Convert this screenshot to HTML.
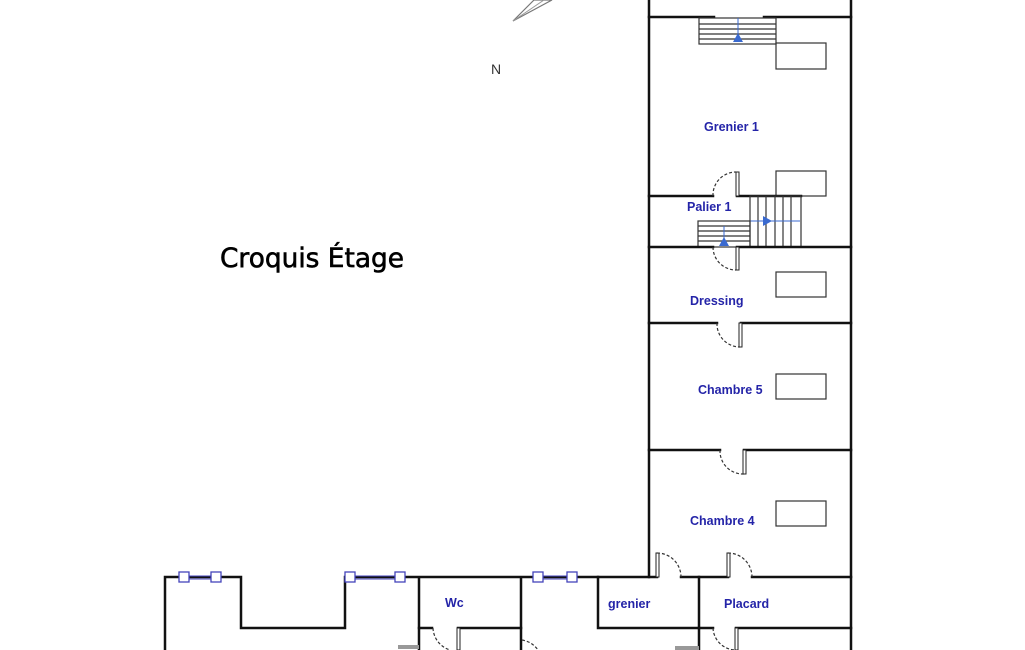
<!DOCTYPE html>
<html><head><meta charset="utf-8"><style>
html,body{margin:0;padding:0;background:#fff;}
svg{display:block}
.w{stroke:#111;stroke-width:2.5;fill:none;stroke-linecap:square}
.t{stroke:#333;stroke-width:1.2;fill:none}
.d{stroke:#333;stroke-width:1.2;fill:none;stroke-dasharray:3 2}
.l{font-family:"Liberation Sans",sans-serif;font-weight:bold;font-size:12.5px;fill:#2424a8}
.win{fill:#fff;stroke:#4444bb;stroke-width:1.3}
</style></head><body>
<svg width="1025" height="650" viewBox="0 0 1025 650" xmlns="http://www.w3.org/2000/svg">
<!-- compass -->
<polygon points="513,21 534,0 552,0" fill="none" stroke="#777" stroke-width="1.2"/>
<line x1="513" y1="21" x2="544" y2="0" stroke="#999" stroke-width="1"/>
<text x="491" y="74" font-family="Liberation Sans,sans-serif" font-size="14" fill="#333">N</text>
<text x="220" y="267" font-family="'DejaVu Sans','Liberation Sans',sans-serif" font-size="27" fill="#000" stroke="#000" stroke-width="0.6" textLength="184" lengthAdjust="spacingAndGlyphs">Croquis Étage</text>

<!-- right column outer -->
<path class="w" d="M649,0 V577 M851,0 V650"/>
<path class="w" d="M649,17 H714 M764,17 H851"/>
<!-- top stairs -->
<rect class="t" x="699" y="18" width="77" height="26"/>
<g class="t"><line x1="699" y1="24" x2="776" y2="24"/><line x1="699" y1="29" x2="776" y2="29"/><line x1="699" y1="34" x2="776" y2="34"/><line x1="699" y1="39" x2="776" y2="39"/></g>
<line x1="738" y1="18" x2="738" y2="40" stroke="#3a6ad0" stroke-width="1"/>
<polygon points="738,33 733,42 743,42" fill="#3a6ad0"/>
<rect class="t" x="776" y="43" width="50" height="26"/>
<text class="l" x="704" y="131">Grenier 1</text>
<rect class="t" x="776" y="171" width="50" height="25"/>
<!-- palier -->
<path class="w" d="M649,196 H713 M737,196 H801"/>
<rect x="736" y="172" width="3" height="24" fill="#fff" stroke="#222" stroke-width="1"/>
<path class="d" d="M713,196 A23,23 0 0 1 736,172"/>
<rect class="t" x="750" y="196" width="51" height="51"/>
<g class="t"><line x1="758" y1="196" x2="758" y2="247"/><line x1="766" y1="196" x2="766" y2="247"/><line x1="775" y1="196" x2="775" y2="247"/><line x1="783" y1="196" x2="783" y2="247"/><line x1="791" y1="196" x2="791" y2="247"/></g>
<line x1="750" y1="221" x2="800" y2="221" stroke="#3a6ad0" stroke-width="1"/>
<polygon points="772,221 763,216 763,226" fill="#3a6ad0"/>
<rect class="t" x="698" y="221" width="52" height="26"/>
<g class="t"><line x1="698" y1="226" x2="750" y2="226"/><line x1="698" y1="231" x2="750" y2="231"/><line x1="698" y1="236" x2="750" y2="236"/><line x1="698" y1="241" x2="750" y2="241"/></g>
<line x1="724" y1="226" x2="724" y2="245" stroke="#3a6ad0" stroke-width="1"/>
<polygon points="724,237 719,246 729,246" fill="#3a6ad0"/>
<text class="l" x="687" y="211">Palier 1</text>
<!-- dressing -->
<path class="w" d="M649,247 H713 M737,247 H851"/>
<rect x="736" y="247" width="3" height="23" fill="#fff" stroke="#222" stroke-width="1"/>
<path class="d" d="M713,247 A23,23 0 0 0 736,270"/>
<rect class="t" x="776" y="272" width="50" height="25"/>
<text class="l" x="690" y="305">Dressing</text>
<path class="w" d="M649,323 H717 M741,323 H851"/>
<rect x="739" y="323" width="3" height="24" fill="#fff" stroke="#222" stroke-width="1"/>
<path class="d" d="M717,323 A23,23 0 0 0 740,347"/>
<rect class="t" x="776" y="374" width="50" height="25"/>
<text class="l" x="698" y="394">Chambre 5</text>
<path class="w" d="M649,450 H720 M744,450 H851"/>
<rect x="743" y="450" width="3" height="24" fill="#fff" stroke="#222" stroke-width="1"/>
<path class="d" d="M720,450 A23,23 0 0 0 744,474"/>
<rect class="t" x="776" y="501" width="50" height="25"/>
<text class="l" x="690" y="525">Chambre 4</text>
<path class="w" d="M598,577 H657 M681,577 H728 M752,577 H851"/>
<rect x="656" y="553" width="3" height="24" fill="#fff" stroke="#222" stroke-width="1"/>
<path class="d" d="M657,553 A24,24 0 0 1 681,577"/>
<rect x="727" y="553" width="3" height="24" fill="#fff" stroke="#222" stroke-width="1"/>
<path class="d" d="M728,553 A24,24 0 0 1 752,577"/>
<path class="w" d="M699,577 V650"/>
<text class="l" x="724" y="608">Placard</text>
<path class="w" d="M699,628 H713 M736,628 H851"/>
<rect x="735" y="628" width="3" height="22" fill="#fff" stroke="#222" stroke-width="1"/>
<path class="d" d="M713,628 A23,23 0 0 0 736,650"/>
<rect x="675" y="646" width="24" height="4" fill="#999"/>
<!-- bottom left -->
<path class="w" d="M165,650 V577 H241 V628 H345 V577 H419 V628 M419,577 H521 V650 M521,577 H598 V628 H699"/>
<path class="w" d="M419,628 V650 M419,628 H432 M458,628 H521"/>
<rect x="457" y="628" width="3" height="22" fill="#fff" stroke="#222" stroke-width="1"/>
<path class="d" d="M433,628 A24,24 0 0 0 450,650"/>
<path class="d" d="M522,640 A24,24 0 0 1 538,650"/>
<rect x="398" y="645" width="21" height="4" fill="#999"/>
<text class="l" x="445" y="607">Wc</text>
<text class="l" x="608" y="608">grenier</text>
<!-- windows -->
<g><line x1="184" y1="576" x2="216" y2="576" stroke="#4444bb" stroke-width="1"/><line x1="184" y1="579" x2="216" y2="579" stroke="#4444bb" stroke-width="1"/>
<rect class="win" x="179" y="572" width="10" height="10"/><rect class="win" x="211" y="572" width="10" height="10"/></g>
<g><line x1="350" y1="576" x2="400" y2="576" stroke="#4444bb" stroke-width="1"/><line x1="350" y1="579" x2="400" y2="579" stroke="#4444bb" stroke-width="1"/>
<rect class="win" x="345" y="572" width="10" height="10"/><rect class="win" x="395" y="572" width="10" height="10"/></g>
<g><line x1="538" y1="576" x2="572" y2="576" stroke="#4444bb" stroke-width="1"/><line x1="538" y1="579" x2="572" y2="579" stroke="#4444bb" stroke-width="1"/>
<rect class="win" x="533" y="572" width="10" height="10"/><rect class="win" x="567" y="572" width="10" height="10"/></g>
</svg>
</body></html>
